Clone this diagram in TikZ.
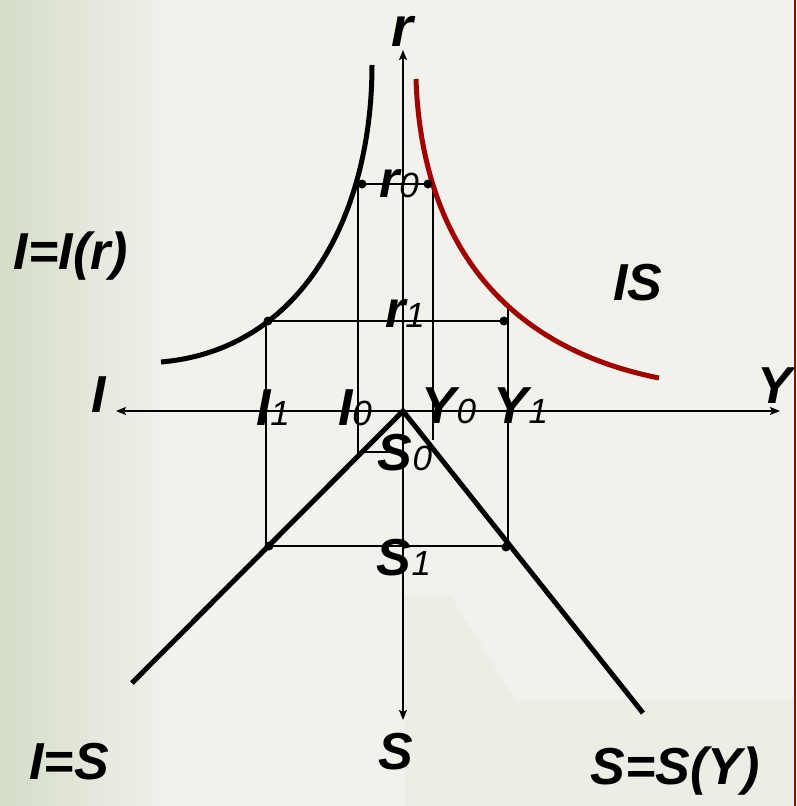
\documentclass[tikz,border=0pt]{standalone}
\usepackage{fontspec}
\setmainfont{Liberation Sans}
\usetikzlibrary{arrows.meta}
\definecolor{bgL}{HTML}{D5DCC9}
\definecolor{bgM}{HTML}{F1F2EC}
\definecolor{bgP}{HTML}{E6EADD}
\definecolor{curvered}{HTML}{A00000}
\definecolor{edgered}{HTML}{8B0A0A}
\newcommand{\mylbl}[2]{{\fontsize{52}{52}\selectfont\bfseries\itshape #1}{\fontsize{35}{35}\selectfont\itshape #2}}
\newcommand{\bigtxt}[1]{{\fontsize{52}{52}\selectfont\bfseries\itshape #1}}
\tikzset{
  axisline/.style={line width=1.4pt,-{Stealth[length=10pt,width=8pt,inset=2pt]}},
  helper/.style={line width=1.3pt},
  thickcurve/.style={line width=5pt},
  dotmark/.style={circle,fill=black,inner sep=0pt,minimum size=9pt},
  lbl/.style={inner sep=0pt,anchor=base,text=black}
}
\begin{document}
\begin{tikzpicture}[x=1pt,y=-1pt]
% background
\useasboundingbox (0,0) rectangle (796,806);
\fill[bgM] (0,0) rectangle (796,806);
\shade[left color=bgL,right color=bgM] (0,0) rectangle (170,806);
\fill[bgP,opacity=0.45] (405,595) -- (450,595) -- (515,700) -- (796,700) -- (796,806) -- (405,806) -- cycle;
\draw[edgered,line width=1.6pt] (795,0) -- (795,806);

% key points
\coordinate (O) at (403,411);
\coordinate (top) at (403,50);
\coordinate (bot) at (403,720);
\coordinate (lft) at (116,411);
\coordinate (rgt) at (780,411);
\coordinate (VL) at (132,683);
\coordinate (VR) at (643,713);

% axes
\draw[axisline] (O) -- (top);
\draw[axisline] (O) -- (bot);
\draw[axisline] (O) -- (lft);
\draw[axisline] (O) -- (rgt);

% helper lines
\coordinate (r0L) at (358,184);
\coordinate (r0R) at (433,184);
\coordinate (I0b) at (358,452);
\coordinate (S0a) at (403,452);
\coordinate (Y0b) at (433,440);
\coordinate (r1L) at (266,321);
\coordinate (r1R) at (508,321);
\coordinate (Y1t) at (508,303);
\coordinate (S1L) at (266,546);
\coordinate (S1R) at (508,546);
\draw[helper] (r0L) -- (r0R);
\draw[helper] (r0L) -- (I0b) -- (S0a);
\draw[helper] (r0R) -- (Y0b);
\draw[helper] (r1L) -- (r1R);
\draw[helper] (r1L) -- (S1L) -- (S1R);
\draw[helper] (Y1t) -- (S1R);

% curves
\coordinate (bcA) at (372,65);
\coordinate (bcB) at (161,362);
\coordinate (rcA) at (416,79);
\coordinate (rcB) at (659,378);
\draw[thickcurve] (bcA) .. controls (372,215) and (302,350) .. (bcB);
\draw[thickcurve,curvered] (rcA) .. controls (420,200) and (470,340) .. (rcB);
\draw[thickcurve] (VL) -- (O) -- (VR);

% dots
\node[dotmark] (dA) at (362,184) {};
\node[dotmark] (dB) at (428,184) {};
\node[dotmark] (dC) at (268,321) {};
\node[dotmark] (dD) at (504,321) {};
\node[dotmark] (dE) at (269,546) {};
\node[dotmark] (dF) at (506,547) {};

% labels
\node[lbl] (lr) at (402,46) {{\fontsize{56}{56}\selectfont\bfseries\itshape r}};
\node[lbl] (lY) at (775,403) {\bigtxt{Y}};
\node[lbl] (lI) at (99,412) {\bigtxt{I}};
\node[lbl] (lS) at (396,769) {\bigtxt{S}};
\node[lbl] (lIr) at (71,269) {\bigtxt{I=I(r)}};
\node[lbl] (lIS) at (638,300) {\bigtxt{IS}};
\node[lbl] (lIeS) at (69,779) {\bigtxt{I=S}};
\node[lbl] (lSY) at (675,784) {\bigtxt{S=S(Y)}};
\node[lbl] (lr0) at (399,197) {\mylbl{r}{0}};
\node[lbl] (lr1) at (405,327) {\mylbl{r}{1}};
\node[lbl] (lI1) at (273,425) {\mylbl{I}{1}};
\node[lbl] (lI0) at (355,425) {\mylbl{I}{0}};
\node[lbl] (lY0) at (449,423) {\mylbl{Y}{0}};
\node[lbl] (lY1) at (521,423) {\mylbl{Y}{1}};
\node[lbl] (lS0) at (405,470) {\mylbl{S}{0}};
\node[lbl] (lS1) at (404,575) {\mylbl{S}{1}};
\end{tikzpicture}
\end{document}
